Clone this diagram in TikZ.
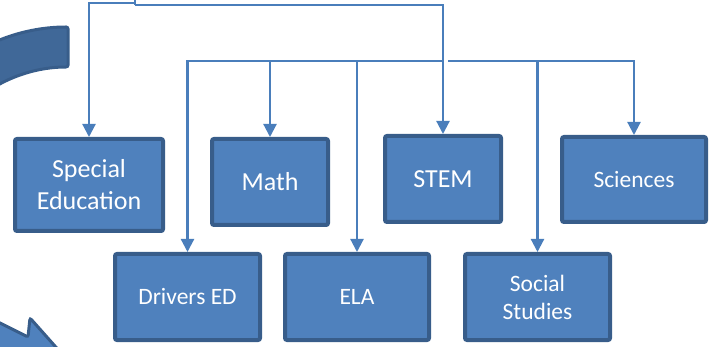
\documentclass[tikz,border=0pt]{standalone}
\usepackage{fontspec}
\setmainfont{Carlito}
\usetikzlibrary{arrows.meta,calc}
\definecolor{boxfill}{RGB}{79,129,189}
\definecolor{boxline}{RGB}{56,93,138}
\definecolor{connc}{RGB}{74,126,187}
\definecolor{bandfill}{RGB}{64,104,152}
\tikzset{
  box/.style={draw=boxline, fill=boxfill, line width=4pt, rounded corners=2pt,
    text=white, align=center, inner sep=0pt},
  bigtxt/.style={font=\fontsize{26}{32}\selectfont},
  smalltxt/.style={font=\fontsize{23.5}{28}\selectfont},
  conn/.style={draw=connc, line width=2.2pt, -{Triangle[width=13pt,length=13pt]}},
  plainconn/.style={draw=connc, line width=2.2pt},
  cyc/.style={draw=boxline, line width=3pt, rounded corners=2pt}
}
\begin{document}
\begin{tikzpicture}[x=1pt,y=-1pt]
\useasboundingbox (0,0) rectangle (712,347);
\clip (0,0) rectangle (712,347);
% circular arrow pieces
\path[cyc, fill=bandfill] (68,211) ++(-90:184) arc[start angle=-90, end angle=-135, radius=184]
  -- ($(68,211)+(-135:144)$) arc[start angle=-135, end angle=-90, radius=144] -- cycle;
\path[cyc, fill=boxfill] (-20,313) -- (28,337) -- (30,318) -- (62,354) -- (-20,354) -- cycle;
% boxes
\node[box,bigtxt, minimum width=148pt, minimum height=92pt] (sped) at (89,185) {Special\\Education};
\node[box,bigtxt, minimum width=116pt, minimum height=86pt] (math) at (270,182) {Math};
\node[box,bigtxt, minimum width=116pt, minimum height=86pt] (stem) at (443,179) {STEM};
\node[box,smalltxt, minimum width=144pt, minimum height=85pt] (sci) at (634,179.5) {Sciences};
\node[box,smalltxt, minimum width=145pt, minimum height=86pt] (drv) at (187.5,297) {Drivers ED};
\node[box,smalltxt, minimum width=144pt, minimum height=86pt] (ela) at (357,297) {ELA};
\node[box,smalltxt, minimum width=145pt, minimum height=86pt] (soc) at (537.5,297) {Social\\Studies};
% junction points
\coordinate (top) at (135,-2);
\coordinate (j1) at (135,3);
\coordinate (j2) at (135,5);
\coordinate (m1) at (443,61);
\coordinate (m2) at (448,61);
% connectors
\draw[plainconn] (top) -- (j2);
\draw[conn] (j2) -| (stem.north);
\draw[conn] (j1) -| (sped.north);
\draw[conn] (m1) -| (drv.north);
\draw[conn] (m1) -| (math.north);
\draw[conn] (m1) -| (ela.north);
\draw[conn] (m2) -| (soc.north);
\draw[conn] (m2) -| (sci.north);
\end{tikzpicture}
\end{document}
